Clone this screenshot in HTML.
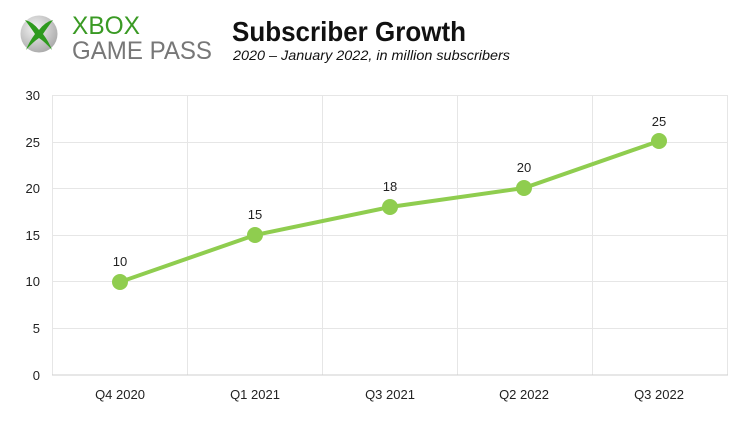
<!DOCTYPE html><html><head><style>body{margin:0;background:#fff;width:750px;height:422px;overflow:hidden;font-family:"Liberation Sans",sans-serif}</style></head><body>
<svg width="750" height="422" xmlns="http://www.w3.org/2000/svg" font-family="Liberation Sans, sans-serif">
<defs><radialGradient id="g" cx="0.4" cy="0.35" r="0.7"><stop offset="0" stop-color="#f4f4f4"/><stop offset="1" stop-color="#a8a8a8"/></radialGradient></defs>
<circle cx="39" cy="34" r="18.5" fill="url(#g)"/>
<path d="M25 20 Q33 22 39 30 Q45 22 53 20 Q47 28 43 34 Q49 42 52 50 Q45 42 39 38 Q33 42 26 50 Q29 42 35 34 Q31 28 25 20Z" fill="#2e9a1e"/>
<text x="72" y="34" font-size="25" fill="#3a9a24" textLength="68" lengthAdjust="spacingAndGlyphs">XBOX</text>
<text x="72" y="59" font-size="25" fill="#777" textLength="140" lengthAdjust="spacingAndGlyphs">GAME PASS</text>
<text x="232" y="41" font-size="28" font-weight="bold" fill="#111" textLength="234" lengthAdjust="spacingAndGlyphs">Subscriber Growth</text>
<text x="233" y="60" font-size="14" font-style="italic" fill="#111" textLength="277" lengthAdjust="spacingAndGlyphs">2020 – January 2022, in million subscribers</text>
<g stroke="#e6e6e6" stroke-width="1">
<line x1="52" y1="95.5" x2="728" y2="95.5"/><line x1="52" y1="142.5" x2="728" y2="142.5"/><line x1="52" y1="188.5" x2="728" y2="188.5"/><line x1="52" y1="235.5" x2="728" y2="235.5"/><line x1="52" y1="281.5" x2="728" y2="281.5"/><line x1="52" y1="328.5" x2="728" y2="328.5"/>
<line x1="52.5" y1="95" x2="52.5" y2="375"/><line x1="187.5" y1="95" x2="187.5" y2="375"/><line x1="322.5" y1="95" x2="322.5" y2="375"/><line x1="457.5" y1="95" x2="457.5" y2="375"/><line x1="592.5" y1="95" x2="592.5" y2="375"/><line x1="727.5" y1="95" x2="727.5" y2="375"/>
</g>
<line x1="52" y1="375" x2="728" y2="375" stroke="#cfcfcf"/>
<g font-size="13" fill="#222" text-anchor="end">
<text x="40" y="100">30</text><text x="40" y="147">25</text><text x="40" y="193">20</text><text x="40" y="240">15</text><text x="40" y="286">10</text><text x="40" y="333">5</text><text x="40" y="380">0</text></g>
<g font-size="13" fill="#222" text-anchor="middle">
<text x="120" y="399">Q4 2020</text><text x="255" y="399">Q1 2021</text><text x="390" y="399">Q3 2021</text><text x="524" y="399">Q2 2022</text><text x="659" y="399">Q3 2022</text>
<text x="120" y="266">10</text><text x="255" y="219">15</text><text x="390" y="191">18</text><text x="524" y="172">20</text><text x="659" y="126">25</text></g>
<polyline points="120,282 255,235 390,207 524,188 659,141" fill="none" stroke="#8fcd4f" stroke-width="4"/>
<g fill="#8fcd4f"><circle cx="120" cy="282" r="8"/><circle cx="255" cy="235" r="8"/><circle cx="390" cy="207" r="8"/><circle cx="524" cy="188" r="8"/><circle cx="659" cy="141" r="8"/></g>
</svg></body></html>
